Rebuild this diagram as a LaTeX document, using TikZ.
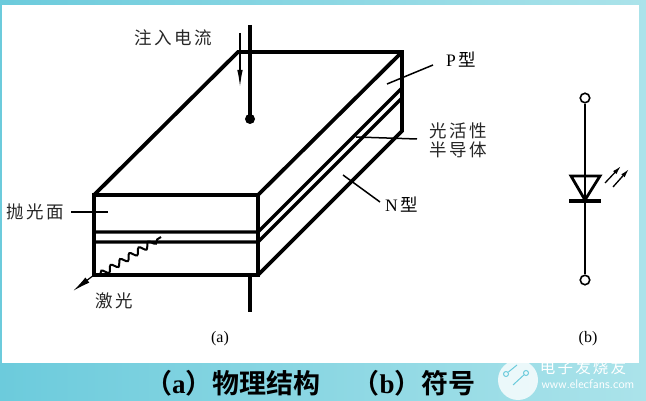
\documentclass[tikz,border=0pt]{standalone}
\usepackage{fontspec}
\setmainfont{Liberation Serif}
\newfontfamily\cjk[LetterSpace=14]{Noto Sans CJK SC}
\newfontfamily\cjkbold{Noto Sans CJK SC Bold}
\usetikzlibrary{arrows.meta,decorations.pathmorphing}
\definecolor{frameleft}{HTML}{6CCBDC}
\definecolor{frameright}{HTML}{ABE3EA}
\begin{document}
\begin{tikzpicture}[
    x=1pt, y=-1pt,
    % outline of the block and of the symbol
    block line/.style={line width=3.8pt, line join=miter},
    % thin leader from a label to the block
    leader/.style={line width=1.5pt},
    cjk text/.style={font=\fontsize{17.5}{19}\selectfont\cjk, inner sep=0pt, text=black!85},
    latin text/.style={font=\fontsize{17.5}{19}\selectfont, inner sep=0pt},
    thin arrow/.style={line width=1.3pt, -{Latex[length=17pt, width=5.5pt]}},
    light arrow/.style={line width=1.3pt, -{Latex[length=9pt, width=4.5pt]}},
    terminal/.style={circle, draw, line width=1.6pt, fill=white, minimum size=9.5pt, inner sep=0pt}
]

    % --- 1. frame ---
    \useasboundingbox (0,0) rectangle (646,401);
    \fill[left color=frameleft, right color=frameright] (0,0) rectangle (646,401);
    \fill[white] (2,5) rectangle (639,363);

    % --- 2. block ---
    \coordinate (front nw) at (94,195);
    \coordinate (front ne) at (258,195);
    \coordinate (front se) at (258,275);
    \coordinate (front sw) at (94,275);
    \coordinate (back nw) at (238,52);
    \coordinate (back ne) at (402,52);
    \coordinate (back se) at (402,131);

    \draw[block line] (front sw) -- (front nw) -- (front ne) -- (front se) -- cycle;
    \draw[block line] (front nw) -- (back nw) -- (back ne) -- (back se) -- (front se);
    \draw[block line] (front ne) -- (back ne);
    % active layer
    \coordinate (layer a) at (94,232);
    \coordinate (layer b) at (94,242);
    \coordinate (layer c) at (258,232);
    \coordinate (layer d) at (258,242);
    \coordinate (layer e) at (402,88);
    \coordinate (layer f) at (402,98);
    \draw[line width=3.2pt] (layer a) -- (layer c) -- (layer e);
    \draw[line width=3.2pt] (layer b) -- (layer d) -- (layer f);

    % --- 3. current wire ---
    \coordinate (wire top) at (250,25);
    \coordinate (wire end) at (250,119);
    \coordinate (wire low) at (250,275);
    \coordinate (wire foot) at (250,312);
    \draw[line width=3.2pt] (wire top) -- (wire end);
    \draw[line width=3.2pt] (wire low) -- (wire foot);
    \fill (wire end) circle (5pt);
    \coordinate (current a) at (240,33);
    \coordinate (current b) at (240,87);
    \draw[thin arrow] (current a) -- (current b);

    % --- 4. laser ---
    \coordinate (laser a) at (100,275);
    \coordinate (laser b) at (161,237);
    \coordinate (laser out) at (73,291);
    \draw[line width=2pt, decorate, decoration={snake, segment length=11pt, amplitude=3pt}] (laser a) -- (laser b);
    \draw[line width=1.2pt, -{Latex[length=18pt, width=6.5pt]}] (front sw) -- (laser out);

    % --- 5. labels ---
    \node[cjk text] (current) at (173,38) {注入电流};
    \node[cjk text] (polish) at (35,212) {抛光面};
    \node[cjk text] (laser) at (114,301) {激光};
    \node[cjk text, align=center] (active) at (458,140) {光活性\\半导体};
    \node[latin text, anchor=west] (pt) at (446,60) {P\,{\cjk 型}};
    \node[latin text, anchor=west] (nt) at (385,205) {N\,{\cjk 型}};

    \coordinate (polish in) at (108,212);
    \coordinate (pt in) at (387,84);
    \coordinate (pt out) at (433,65);
    \coordinate (active in) at (356,137);
    \coordinate (active out) at (417,139);
    \coordinate (nt in) at (343,175);
    \coordinate (nt out) at (380,202);
    \coordinate (polish out) at (71,212);
    \draw[leader] (polish out) -- (polish in);
    \draw[leader] (pt out) -- (pt in);
    \draw[leader] (active out) -- (active in);
    \draw[leader] (nt out) -- (nt in);

    % --- 6. symbol ---
    \node[terminal] (top pin) at (585,98) {};
    \node[terminal] (low pin) at (585,280) {};
    \draw[line width=1.6pt] (top pin) -- (low pin);
    \coordinate (tri a) at (571,176);
    \coordinate (tri b) at (600,176);
    \coordinate (tri c) at (585,200);
    \draw[line width=2.8pt] (tri a) -- (tri b) -- (tri c) -- cycle;
    \coordinate (bar a) at (569,201);
    \coordinate (bar b) at (601,201);
    \draw[line width=3.4pt] (bar a) -- (bar b);
    \coordinate (light a) at (605,183);
    \coordinate (light b) at (621,166);
    \coordinate (light c) at (613,187);
    \coordinate (light d) at (629,169);
    \draw[light arrow] (light a) -- (light b);
    \draw[light arrow] (light c) -- (light d);

    % --- 7. captions ---
    \node[font=\fontsize{16}{18}\selectfont, inner sep=0pt] (sub a) at (220,339) {(a)};
    \node[font=\fontsize{16}{18}\selectfont, inner sep=0pt] (sub b) at (588,339) {(b)};
    \node[font=\fontsize{27}{30}\selectfont\cjkbold, inner sep=0pt, anchor=west] (title) at (145,383)
        {（{\bfseries\rmfamily a}）物理结构\hspace{32pt}（{\bfseries\rmfamily b}）符号};

    % --- 8. watermark ---
    \fill[white, opacity=.8] (518,380) circle (20pt);
    \node[circle, draw=frameleft, line width=1pt, minimum size=5pt, inner sep=0pt] (dot a) at (506,374) {};
    \node[circle, draw=frameleft, line width=1pt, minimum size=5pt, inner sep=0pt] (dot b) at (526,373) {};
    \coordinate (trace a) at (517,365);
    \coordinate (trace b) at (513,385);
    \draw[frameleft, line width=1pt] (dot a) -- (trace a);
    \draw[frameleft, line width=1pt] (dot b) -- (trace b);
    \node[font=\fontsize{15.5}{18}\selectfont\cjk, text=white, inner sep=0pt] (mark) at (583,368) {电子发烧友};
    \node[font=\fontsize{12.5}{14}\selectfont\sffamily, text=white, inner sep=0pt] (site) at (588,384) {www.elecfans.com};

\end{tikzpicture}
\end{document}
